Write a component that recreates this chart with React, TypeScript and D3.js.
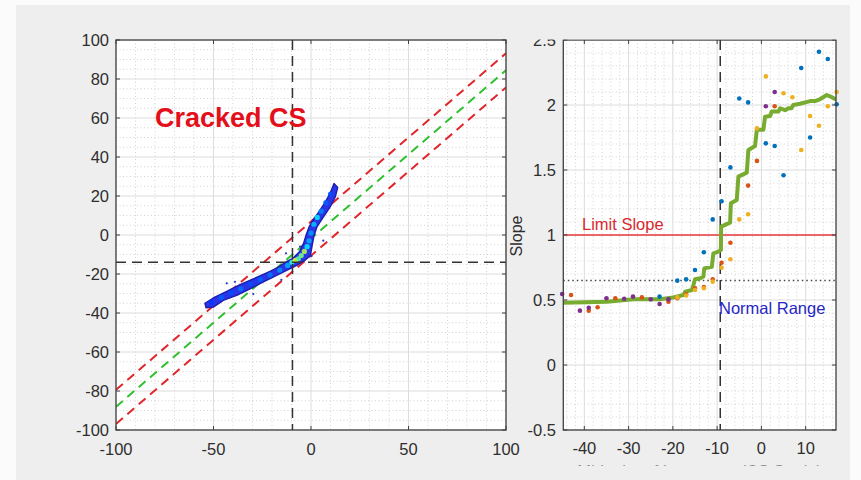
import { useEffect, useRef } from "react";
import * as d3 from "d3";

const W = 861;
const H = 480;
const FONT = "'Liberation Sans', Arial, Helvetica, sans-serif";

// ---------- left panel ----------
const leftXTicks = [-100, -50, 0, 50, 100];
const leftYTicks = [-100, -80, -60, -40, -20, 0, 20, 40, 60, 80, 100];
const bandSlope = 0.863;
const bandOffsets = [6.9, -1.8, -10.6]; // upper red, green, lower red
const crossX = -9.5;
const crossY = -14;

// outline of the density cloud
const cloudOutline: [number, number][] = [
  [-54.4, -35.0], [-50.1, -32.3], [-43.2, -28.9], [-36.4, -25.4], [-29.6, -22.5],
  [-22.7, -19.4], [-17.6, -17.0], [-12.5, -13.6], [-9.1, -11.8], [-5.8, -8.4],
  [-3.8, -4.3], [-2.5, 0], [-0.9, 4.3], [1.0, 7.7], [3.5, 11.1], [6.9, 16.2],
  [9.8, 21.4], [11.8, 26.4], [13.7, 24.4], [12.5, 19.7], [9.9, 14.5], [6.5, 9.4],
  [3.1, 4.3], [1.4, -0.9], [0.5, -6.0], [-0.3, -10.5], [-3.1, -13.0], [-7.3, -15.6],
  [-12.5, -18.1], [-17.6, -20.7], [-24.4, -24.1], [-31.3, -27.6], [-38.1, -31.0],
  [-45.0, -33.5], [-50.1, -37.0], [-53.8, -37.3],
];
// denser spots inside the cloud: x, y, density
const cloudSpots: [number, number, number][] = [
  [-51, -34.6, 0.18], [-46, -32, 0.22], [-41, -29.6, 0.2], [-36, -27.6, 0.24],
  [-31, -25, 0.2], [-26, -22.8, 0.22], [-21, -20.4, 0.24], [-16, -18, 0.27],
  [-12, -15.6, 0.3], [-9.8, -14, 0.42], [-8, -13, 0.62], [-6.5, -12.2, 0.46],
  [-5, -10.5, 0.5], [-3.4, -8.4, 0.55], [-2, -6, 0.36], [-1, -3, 0.3],
  [0, 1, 0.28], [1.5, 5.5, 0.32], [3.2, 9, 0.36], [5.2, 12.2, 0.26],
  [7.6, 16.6, 0.22], [10, 21, 0.2],
];
const strayPoints: [number, number][] = [
  [-43.2, -24.8], [-39, -24], [-29.6, -30.3], [-12.8, -9.4], [-15.2, -23],
  [0.3, -10.8], [6.3, -2.9], [-5.6, -6],
];

// ---------- right panel ----------
const rightXTicks = [-40, -30, -20, -10, 0, 10];
const rightYTicks = [-0.5, 0, 0.5, 1, 1.5, 2, 2.5];
const limitSlope = 1;
const normalLimit = 0.65;
const splitX = -9.3;

const slopeLine: [number, number][] = [
  [-44.7, 0.479], [-34.9, 0.487], [-28.9, 0.505], [-22.9, 0.505], [-19.9, 0.52],
  [-17.6, 0.538], [-17.2, 0.564], [-15.7, 0.577], [-15.35, 0.615], [-15, 0.659],
  [-13.8, 0.667], [-13.1, 0.68], [-12.9, 0.743], [-11.2, 0.756], [-10.85, 0.859],
  [-9.7, 0.872], [-9.15, 0.885], [-9.1, 1.064], [-7.07, 1.095], [-6.9, 1.244],
  [-5.56, 1.27], [-5.2, 1.449], [-3.3, 1.48], [-2.94, 1.654], [-1.43, 1.685],
  [-1.04, 1.81], [0.45, 1.81], [0.83, 1.91], [1.96, 1.915], [2.34, 1.95],
  [3.84, 1.95], [4.22, 1.975], [5.35, 1.96], [6.1, 1.975], [6.8, 1.975],
  [7.2, 2.0], [8.73, 2.01], [11, 2.03], [12.1, 2.03], [13.2, 2.044],
  [14.76, 2.077], [15.9, 2.06], [17, 2.04],
];
const blueDots: [number, number][] = [
  [-23, 0.526], [-19, 0.649], [-17, 0.659], [-15, 0.731], [-13, 0.867],
  [-11, 1.12], [-9, 1.26], [-7, 1.52], [-5, 2.05], [-3, 2.02], [1, 1.705],
  [3, 1.685], [5, 1.46], [9, 2.285], [11, 1.75], [13, 2.41], [15, 2.354], [17, 2.005],
];
const orangeDots: [number, number][] = [
  [-43, 0.538], [-39, 0.418], [-37, 0.444], [-33, 0.513], [-27, 0.52],
  [-21, 0.487], [-19, 0.513], [-17, 0.544], [-15, 0.59], [-13, 0.6],
  [-11, 0.659], [-9, 0.787], [-7, 0.94], [-3, 1.38], [-1, 1.57], [3, 1.99],
];
const yellowDots: [number, number][] = [
  [-19, 0.52], [-17, 0.535], [-15, 0.577], [-13, 0.59], [-11, 0.641],
  [-9, 0.749], [-7, 0.813], [-5, 1.12], [-3, 1.16], [-1, 1.82], [1, 2.22],
  [5, 2.09], [7, 2.06], [9, 1.654], [11, 1.915], [13, 1.84], [15, 1.99], [17, 2.1],
];
const purpleDots: [number, number][] = [
  [-45, 0.546], [-41, 0.418], [-39, 0.44], [-35, 0.513], [-31, 0.51],
  [-29, 0.526], [-25, 0.505], [-23, 0.469], [-21, 0.505], [1, 1.99], [3, 2.1],
];

const jet = d3
  .scaleLinear<string>()
  .domain([0, 0.125, 0.375, 0.625, 0.875, 1])
  .range(["#00008f", "#0000ff", "#00ffff", "#ffff00", "#ff0000", "#800000"]);

function drawFrame(g, x, y, xTicks, yTicks, xMinor, yMinor) {
  const [x0, x1] = x.range();
  const [y1, y0] = y.range();
  g.append("rect")
    .attr("x", x0).attr("y", y0)
    .attr("width", x1 - x0).attr("height", y1 - y0)
    .attr("fill", "#ffffff");

  // minor grid (dotted)
  g.append("g").selectAll("line").data(xMinor).join("line")
    .attr("x1", (d) => x(d)).attr("x2", (d) => x(d))
    .attr("y1", y0).attr("y2", y1)
    .attr("stroke", "#c8c8c8").attr("stroke-width", 0.8)
    .attr("stroke-dasharray", "1,2.5");
  g.append("g").selectAll("line").data(yMinor).join("line")
    .attr("y1", (d) => y(d)).attr("y2", (d) => y(d))
    .attr("x1", x0).attr("x2", x1)
    .attr("stroke", "#c8c8c8").attr("stroke-width", 0.8)
    .attr("stroke-dasharray", "1,2.5");

  // major grid
  g.append("g").selectAll("line").data(xTicks).join("line")
    .attr("x1", (d) => x(d)).attr("x2", (d) => x(d))
    .attr("y1", y0).attr("y2", y1)
    .attr("stroke", "#dcdcdc").attr("stroke-width", 1);
  g.append("g").selectAll("line").data(yTicks).join("line")
    .attr("y1", (d) => y(d)).attr("y2", (d) => y(d))
    .attr("x1", x0).attr("x2", x1)
    .attr("stroke", "#dcdcdc").attr("stroke-width", 1);
}

function drawBox(g, x, y, xTicks, yTicks, labelX, labelY) {
  const [x0, x1] = x.range();
  const [y1, y0] = y.range();
  const tl = 4;
  const ticks = g.append("g").attr("stroke", "#404040").attr("stroke-width", 1);
  xTicks.forEach((t) => {
    ticks.append("line").attr("x1", x(t)).attr("x2", x(t)).attr("y1", y1).attr("y2", y1 - tl);
    ticks.append("line").attr("x1", x(t)).attr("x2", x(t)).attr("y1", y0).attr("y2", y0 + tl);
  });
  yTicks.forEach((t) => {
    ticks.append("line").attr("y1", y(t)).attr("y2", y(t)).attr("x1", x0).attr("x2", x0 + tl);
    ticks.append("line").attr("y1", y(t)).attr("y2", y(t)).attr("x1", x1).attr("x2", x1 - tl);
  });
  g.append("rect")
    .attr("x", x0).attr("y", y0)
    .attr("width", x1 - x0).attr("height", y1 - y0)
    .attr("fill", "none").attr("stroke", "#404040").attr("stroke-width", 1.3);

  g.append("g").selectAll("text").data(xTicks).join("text")
    .attr("x", (d) => x(d)).attr("y", labelY)
    .attr("text-anchor", "middle")
    .attr("font-size", 16.5).attr("fill", "#2e2e2e")
    .text((d) => String(d));
  g.append("g").selectAll("text").data(yTicks).join("text")
    .attr("x", labelX).attr("y", (d) => y(d))
    .attr("dy", "0.35em")
    .attr("text-anchor", "end")
    .attr("font-size", 16.5).attr("fill", "#2e2e2e")
    .text((d) => String(d));
}

export default function App() {
  const ref = useRef<SVGSVGElement>(null);

  useEffect(() => {
    const svg = d3.select(ref.current);
    svg.selectAll("*").remove();
    svg.attr("font-family", FONT);

    svg.append("rect").attr("width", W).attr("height", H).attr("fill", "#fbfbfb");
    svg.append("rect").attr("x", 16).attr("y", 5).attr("width", 834).attr("height", H - 5)
      .attr("fill", "#eeeeee");

    const defs = svg.append("defs");
    defs.append("clipPath").attr("id", "clipL").append("rect")
      .attr("x", 116).attr("y", 40).attr("width", 390).attr("height", 390);
    defs.append("clipPath").attr("id", "clipR").append("rect")
      .attr("x", 563.3).attr("y", 40).attr("width", 272.7).attr("height", 390);
    defs.append("clipPath").attr("id", "clipPanelR").append("rect")
      .attr("x", 500).attr("y", 39.5).attr("width", 350).attr("height", 426);

    // ===== left panel =====
    const xL = d3.scaleLinear().domain([-100, 100]).range([116, 506]);
    const yL = d3.scaleLinear().domain([-100, 100]).range([430, 40]);
    const gL = svg.append("g");
    drawFrame(gL, xL, yL, leftXTicks, leftYTicks,
      d3.range(-90, 100, 10).filter((v) => v % 50 !== 0),
      d3.range(-95, 100, 5).filter((v) => v % 20 !== 0));

    const plotL = gL.append("g").attr("clip-path", "url(#clipL)");

    const bandColors = ["#e0262b", "#2fbf2f", "#e0262b"];
    bandOffsets.forEach((b, i) => {
      plotL.append("line")
        .attr("x1", xL(-100)).attr("y1", yL(bandSlope * -100 + b))
        .attr("x2", xL(100)).attr("y2", yL(bandSlope * 100 + b))
        .attr("stroke", bandColors[i]).attr("stroke-width", 2)
        .attr("stroke-dasharray", "9,6");
    });

    const cloudLine = d3.line<[number, number]>()
      .x((d) => xL(d[0])).y((d) => yL(d[1]))
      .curve(d3.curveLinearClosed);
    plotL.append("path")
      .attr("d", cloudLine(cloudOutline))
      .attr("fill", "#2a36e6")
      .attr("stroke", "#1c1cb0").attr("stroke-width", 1.4)
      .attr("stroke-linejoin", "round");
    plotL.append("g").selectAll("circle").data(cloudSpots).join("circle")
      .attr("cx", (d) => xL(d[0])).attr("cy", (d) => yL(d[1]))
      .attr("r", 2.6)
      .attr("fill", (d) => jet(d[2]))
      .attr("opacity", 0.85);
    plotL.append("g").selectAll("circle").data(strayPoints).join("circle")
      .attr("cx", (d) => xL(d[0])).attr("cy", (d) => yL(d[1]))
      .attr("r", 1.1).attr("fill", "#2a36c0");

    plotL.append("line")
      .attr("x1", xL(crossX)).attr("x2", xL(crossX)).attr("y1", 40).attr("y2", 430)
      .attr("stroke", "#333333").attr("stroke-width", 1.5).attr("stroke-dasharray", "10,6");
    plotL.append("line")
      .attr("y1", yL(crossY)).attr("y2", yL(crossY)).attr("x1", 116).attr("x2", 506)
      .attr("stroke", "#333333").attr("stroke-width", 1.5).attr("stroke-dasharray", "10,6");

    gL.append("text")
      .attr("x", 155).attr("y", 127)
      .attr("font-size", 27).attr("font-weight", "bold")
      .attr("fill", "#e3101b")
      .text("Cracked CS");

    drawBox(gL, xL, yL, leftXTicks, leftYTicks, 109, 455);

    // ===== right panel =====
    const xR = d3.scaleLinear().domain([-44.75, 16.85]).range([563.3, 836]);
    const yR = d3.scaleLinear().domain([-0.5, 2.5]).range([430, 40]);
    const gR = svg.append("g").attr("clip-path", "url(#clipPanelR)");
    drawFrame(gR, xR, yR, rightXTicks, rightYTicks,
      d3.range(-44, 17, 2).filter((v) => v % 10 !== 0),
      d3.range(-0.4, 2.5, 0.1).filter((v) => Math.abs(v * 2 - Math.round(v * 2)) > 0.01));

    const plotR = gR.append("g").attr("clip-path", "url(#clipR)");

    plotR.append("line")
      .attr("x1", 563.3).attr("x2", 836)
      .attr("y1", yR(normalLimit)).attr("y2", yR(normalLimit))
      .attr("stroke", "#444444").attr("stroke-width", 1.3).attr("stroke-dasharray", "1.5,3");
    plotR.append("line")
      .attr("x1", 563.3).attr("x2", 836)
      .attr("y1", yR(limitSlope)).attr("y2", yR(limitSlope))
      .attr("stroke", "#e8383d").attr("stroke-width", 1.5);
    plotR.append("line")
      .attr("x1", xR(splitX)).attr("x2", xR(splitX)).attr("y1", 40).attr("y2", 430)
      .attr("stroke", "#333333").attr("stroke-width", 1.5).attr("stroke-dasharray", "10,6");

    const dotSets: [[number, number][], string][] = [
      [blueDots, "#0072bd"],
      [orangeDots, "#d95319"],
      [yellowDots, "#edb120"],
      [purpleDots, "#7e2f8e"],
    ];
    const gDots = gR.append("g");
    dotSets.forEach(([pts, c]) => {
      gDots.append("g").selectAll("circle").data(pts).join("circle")
        .attr("cx", (d) => xR(d[0])).attr("cy", (d) => yR(d[1]))
        .attr("r", 2.3).attr("fill", c);
    });

    const stepLine = d3.line<[number, number]>()
      .x((d) => xR(d[0])).y((d) => yR(d[1]));
    plotR.append("path")
      .attr("d", stepLine(slopeLine))
      .attr("fill", "none")
      .attr("stroke", "#77ac30").attr("stroke-width", 4)
      .attr("stroke-linejoin", "round");

    gR.append("text")
      .attr("x", 582).attr("y", 230)
      .attr("font-size", 16.5).attr("fill", "#d9282e")
      .text("Limit Slope");
    gR.append("text")
      .attr("x", 719).attr("y", 314)
      .attr("font-size", 16.5).attr("fill", "#2626c4")
      .text("Normal Range");

    drawBox(gR, xR, yR, rightXTicks, rightYTicks, 556, 453.5);

    gR.append("text")
      .attr("transform", "translate(522,236) rotate(-90)")
      .attr("text-anchor", "middle")
      .attr("font-size", 16).attr("fill", "#2e2e2e")
      .text("Slope");
    gR.append("text")
      .attr("x", 699.7).attr("y", 477)
      .attr("text-anchor", "middle")
      .attr("font-size", 16.5).attr("fill", "#2e2e2e")
      .text("Midpoint of Increment (CS Strain)");
  }, []);

  return (
    <svg
      ref={ref}
      width={W}
      height={H}
      style={{ position: "absolute", left: 0, top: 0, display: "block" }}
    />
  );
}
